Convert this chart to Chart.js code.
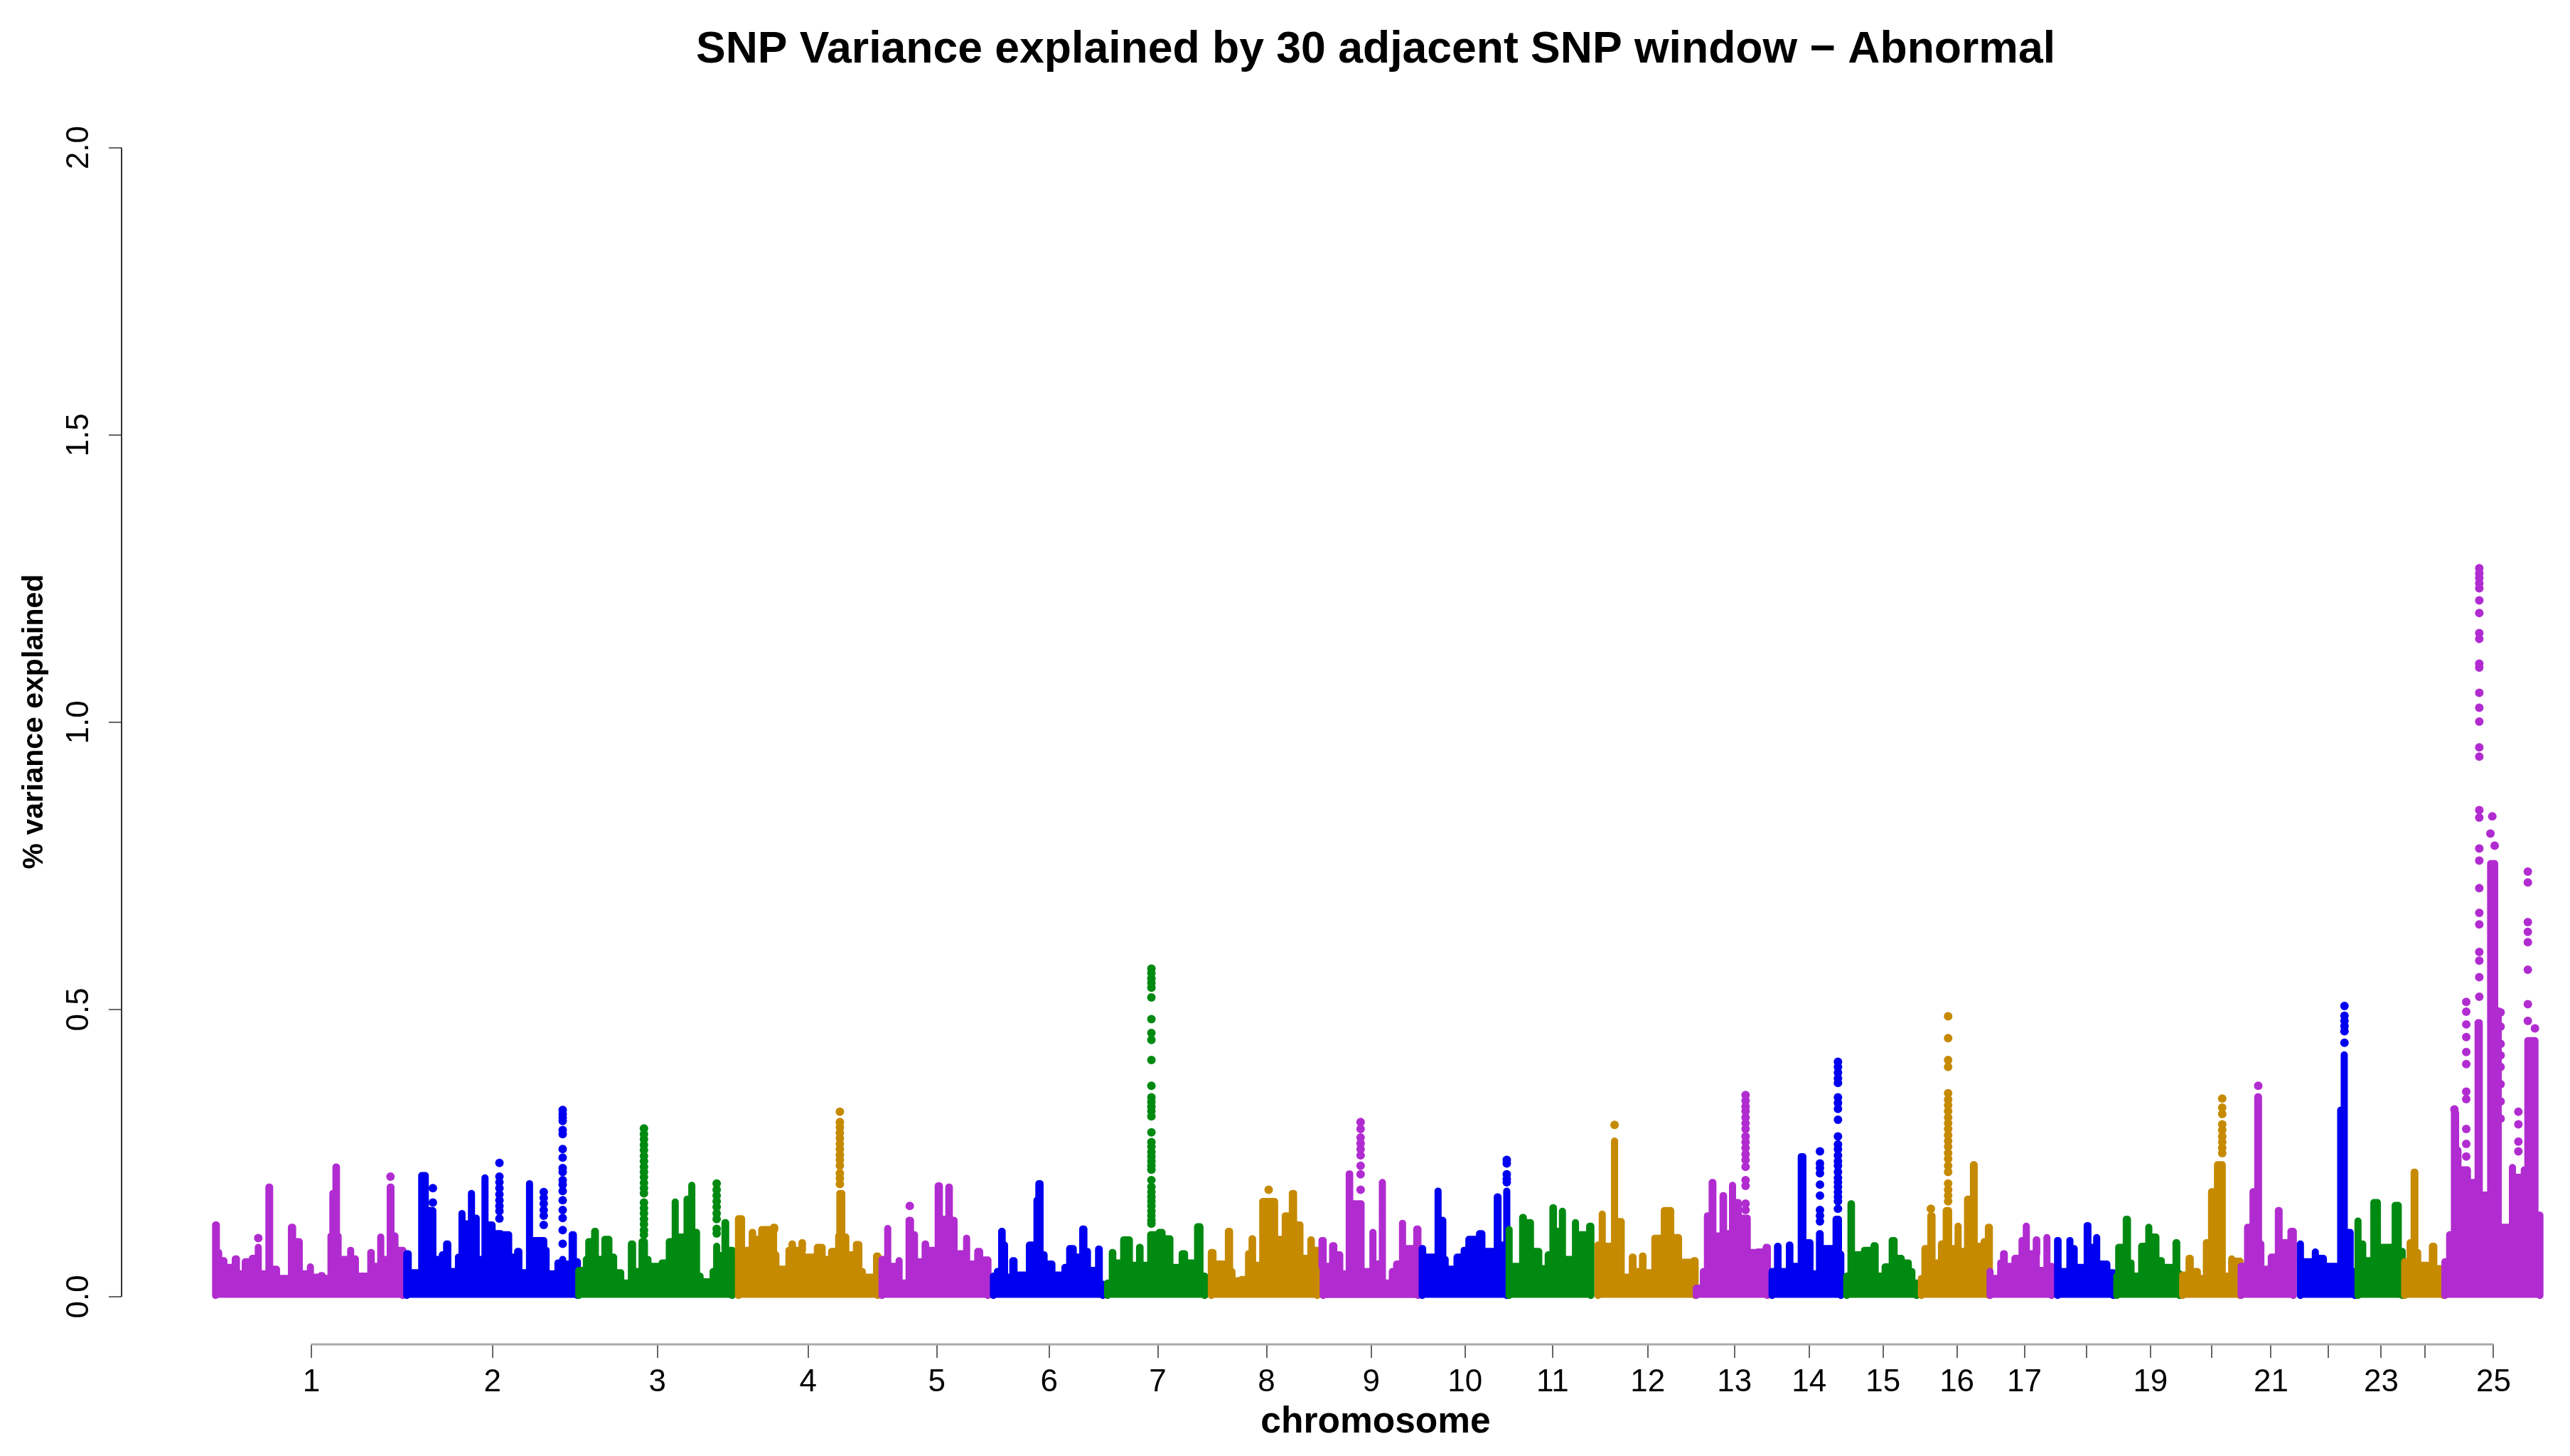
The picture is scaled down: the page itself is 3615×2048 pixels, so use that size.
<!DOCTYPE html>
<html>
<head>
<meta charset="utf-8">
<title>SNP variance</title>
<script src="https://cdn.jsdelivr.net/npm/chart.js@4"></script>
<style>
  html, body { margin: 0; padding: 0; background: #fff; overflow: hidden; }
  canvas { display: block; }
</style>
</head>
<body>
<canvas id="myChart" width="3705" height="2048"></canvas>
<script>
// genome position (arbitrary SNP index units), top edge of the point cloud
const chr1 = [[25,.131],[58,.083],[68,.069],[90,.057],[108,.072],[143,.046],[150,.067],[180,.073],[205,.092],[235,.046],[250,.197],[283,.054],[312,.038],[345,.127],[380,.102],[408,.046],[425,.058],[455,.040],[470,.043],[505,.038],[512,.112],[520,.186],[533,.232],[565,.112],[572,.071],[595,.087],[625,.072],[645,.042],[680,.083],[712,.059],[722,.110],[752,.071],[762,.197],[795,.112],[812,.087],[845,.004]];
const chr2 = [[832,.081],[868,.048],[895,.217],[940,.156],[972,.071],[982,.079],[1000,.098],[1035,.050],[1050,.075],[1065,.151],[1095,.133],[1105,.186],[1135,.143],[1155,.071],[1162,.213],[1192,.131],[1222,.116],[1258,.114],[1292,.075],[1300,.085],[1335,.048],[1350,.203],[1380,.104],[1440,.087],[1450,.046],[1470,.065],[1490,.071],[1520,.063],[1530,.114],[1565,.067],[1582,.004]];
const chr3 = [[1558,.052],[1590,.071],[1600,.102],[1625,.120],[1658,.071],[1668,.106],[1715,.075],[1735,.048],[1765,.030],[1780,.098],[1815,.050],[1825,.102],[1865,.071],[1880,.059],[1910,.065],[1940,.102],[1965,.171],[1995,.110],[2015,.176],[2035,.200],[2065,.118],[2085,.042],[2100,.032],[2125,.050],[2140,.094],[2170,.078],[2178,.135],[2205,.087],[2235,.004]];
const chr4 = [[2232,.142],[2275,.087],[2290,.118],[2322,.106],[2330,.123],[2385,.127],[2410,.079],[2420,.054],[2445,.087],[2460,.098],[2488,.087],[2502,.100],[2530,.075],[2565,.092],[2615,.071],[2625,.085],[2655,.112],[2660,.186],[2698,.110],[2715,.079],[2730,.097],[2770,.050],[2785,.040],[2815,.077],[2850,.004]];
const chr5 = [[2838,.071],[2862,.125],[2892,.059],[2910,.069],[2940,.030],[2952,.139],[2988,.114],[3005,.067],[3020,.098],[3052,.087],[3075,.199],[3110,.141],[3120,.197],[3152,.139],[3172,.081],[3195,.108],[3225,.063],[3242,.085],[3280,.070],[3315,.004]];
const chr6 = [[3308,.042],[3325,.050],[3343,.120],[3375,.096],[3385,.040],[3390,.069],[3425,.044],[3460,.096],[3492,.174],[3500,.203],[3535,.079],[3552,.063],[3585,.044],[3610,.057],[3630,.090],[3675,.075],[3685,.124],[3720,.085],[3735,.052],[3752,.089],[3785,.028],[3800,.004]];
const chr7 = [[3790,.030],[3810,.083],[3842,.065],[3858,.105],[3912,.061],[3925,.092],[3957,.061],[3972,.114],[4008,.118],[4050,.107],[4083,.057],[4105,.081],[4145,.065],[4170,.128],[4210,.042],[4230,.004]];
const chr8 = [[4228,.083],[4265,.063],[4300,.120],[4335,.050],[4345,.034],[4355,.036],[4385,.081],[4400,.107],[4432,.061],[4445,.172],[4525,.106],[4540,.147],[4570,.186],[4605,.131],[4632,.073],[4648,.105],[4680,.087],[4705,.004]];
const chr9 = [[4700,.104],[4725,.059],[4740,.095],[4775,.079],[4800,.046],[4810,.220],[4842,.168],[4890,.050],[4910,.118],[4940,.063],[4950,.205],[4980,.030],[4992,.050],[5010,.063],[5035,.134],[5065,.090],[5095,.124],[5130,.004]];
const chr10 = [[5118,.090],[5150,.075],[5185,.190],[5215,.139],[5235,.071],[5245,.054],[5265,.075],[5295,.087],[5315,.106],[5360,.116],[5400,.085],[5435,.180],[5468,.096],[5475,.190],[5505,.004]];
const chr11 = [[5485,.123],[5515,.059],[5542,.144],[5575,.135],[5605,.085],[5640,.055],[5650,.079],[5670,.161],[5702,.120],[5710,.155],[5740,.071],[5765,.135],[5795,.114],[5825,.129],[5860,.004]];
const chr12 = [[5860,.096],[5878,.150],[5908,.094],[5930,.277],[5960,.137],[5988,.040],[6005,.075],[6038,.050],[6048,.077],[6080,.048],[6100,.108],[6140,.156],[6197,.109],[6230,.066],[6265,.069],[6300,.004]];
const chr13 = [[6275,.021],[6305,.050],[6322,.147],[6342,.205],[6375,.112],[6388,.182],[6420,.116],[6428,.200],[6458,.170],[6482,.143],[6520,.083],[6535,.084],[6570,.092],[6605,.004]];
const chr14 = [[6595,.050],[6618,.094],[6650,.050],[6668,.096],[6700,.059],[6718,.250],[6755,.100],[6785,.046],[6795,.116],[6828,.090],[6865,.141],[6905,.080],[6915,.004]];
const chr15 = [[6910,.042],[6928,.168],[6960,.079],[6985,.087],[7025,.095],[7060,.042],[7072,.058],[7102,.104],[7140,.073],[7170,.065],[7200,.050],[7215,.030],[7235,.004]];
const chr16 = [[7225,.038],[7240,.090],[7265,.147],[7300,.065],[7310,.098],[7330,.156],[7370,.090],[7380,.129],[7410,.085],[7420,.176],[7445,.236],[7478,.094],[7490,.102],[7508,.127],[7542,.004]];
const chr17 = [[7515,.050],[7545,.038],[7560,.065],[7572,.081],[7605,.059],[7620,.073],[7650,.104],[7668,.129],[7698,.081],[7712,.105],[7740,.052],[7755,.109],[7785,.059],[7805,.004]];
const chr18 = [[7800,.104],[7832,.050],[7852,.104],[7882,.090],[7900,.057],[7925,.130],[7958,.092],[7965,.109],[7995,.063],[8038,.048],[8065,.004]];
const chr19 = [[8050,.042],[8058,.092],[8090,.141],[8125,.065],[8140,.042],[8155,.094],[8185,.127],[8215,.110],[8245,.069],[8268,.057],[8300,.100],[8333,.046],[8345,.004]];
const chr20 = [[8328,.044],[8355,.073],[8390,.050],[8420,.038],[8428,.100],[8450,.189],[8475,.236],[8525,.042],[8535,.072],[8565,.068],[8600,.004]];
const chr21 = [[8575,.059],[8602,.127],[8625,.189],[8645,.354],[8678,.098],[8688,.054],[8702,.075],[8732,.156],[8765,.100],[8785,.120],[8825,.004]];
const chr22 = [[8825,.098],[8855,.067],[8888,.084],[8918,.073],[8952,.059],[8995,.331],[9010,.427],[9040,.118],[9065,.050],[9085,.004]];
const chr23 = [[9068,.138],[9098,.098],[9118,.069],[9135,.170],[9180,.092],[9225,.165],[9268,.085],[9285,.004]];
const chr24 = [[9265,.067],[9288,.100],[9305,.223],[9338,.083],[9350,.061],[9382,.094],[9418,.055],[9460,.004]];
const chr25 = [[9435,.067],[9455,.114],[9475,.326],[9510,.261],[9520,.227],[9560,.205],[9575,.483],[9610,.183],[9628,.760],[9675,.504],[9690,.127],[9720,.231],[9750,.214],[9770,.227],[9785,.452],[9845,.148],[9866,.004]];

// single SNPs standing clear above the cloud: [position, [values]]
const chr1Dots = [[220,[.102]],[778,[.209]]];
const chr2Dots = [[957,[.189,.164]],[1238,[.233,.209,.199,.189,.178,.168,.158,.149,.136]],[1425,[.182,.172,.162,.151,.141,.125]],[1505,[.325,.318,.312,.306,.290,.283,.257,.242,.224,.217,.203,.195,.184,.168,.151,.137,.116,.092]]];
const chr3Dots = [[1848,[.293,.283,.274,.264,.255,.245,.236,.226,.217,.208,.198,.189,.180,.164,.154,.145,.135,.126,.116,.108]],[2155,[.197,.186,.176,.166,.156,.145,.135,.118,.110]]];
const chr4Dots = [[2675,[.322,.304,.295,.285,.276,.266,.257,.247,.238,.228,.215,.206,.196]]];
const chr5Dots = [[2970,[.158]]];
const chr7Dots = [[3990,[.571,.563,.554,.546,.538,.521,.483,.459,.447,.412,.367,.347,.339,.331,.323,.314,.286,.269,.261,.252,.244,.236,.228,.221,.203,.191,.182,.174,.166,.158,.149,.141,.133,.127]]];
const chr8Dots = [[4485,[.186]]];
const chr9Dots = [[4873,[.304,.292,.277,.267,.257,.246,.228,.213,.186]]];
const chr10Dots = [[5490,[.238,.232,.213,.205,.199]]];
const chr12Dots = [[5945,[.299]]];
const chr13Dots = [[6498,[.351,.341,.331,.323,.312,.302,.292,.279,.269,.259,.248,.238,.226,.203,.193,.162,.151]]];
const chr14Dots = [[6812,[.253,.232,.224,.215,.195,.176,.151,.141,.131]],[6888,[.409,.400,.390,.380,.372,.347,.337,.327,.308,.279,.265,.257,.246,.236,.228,.217,.207,.199,.191,.182,.174,.166,.153]]];
const chr16Dots = [[7280,[.153]],[7353,[.488,.450,.412,.400,.354,.343,.333,.323,.312,.302,.292,.281,.271,.261,.250,.240,.228,.217,.197,.186,.176,.166]]];
const chr20Dots = [[8510,[.345,.329,.318,.300,.290,.279,.269,.259,.250]]];
const chr21Dots = [[8662,[.367]]];
const chr22Dots = [[9026,[.506,.489,.480,.471,.462,.442]]];
const chr25Dots = [[9490,[.326]],[9540,[.513,.496,.474,.452,.426,.405,.357,.344,.292,.266,.244]],[9595,[1.268,1.259,1.251,1.242,1.233,1.212,1.19,1.155,1.145,1.102,1.095,1.051,1.025,1.001,.956,.940,.847,.834,.780,.759,.711,.668,.648,.600,.585,.556,.522]],[9642,[.806]],[9650,[.836]],[9660,[.785]],[9685,[.495,.470,.440,.420,.400,.370,.340,.310]],[9760,[.322,.300,.270,.253]],[9800,[.740,.721,.652,.635,.617,.569,.509,.480]],[9830,[.467]]];

const chrCloud = [chr1,chr2,chr3,chr4,chr5,chr6,chr7,chr8,chr9,chr10,chr11,chr12,chr13,chr14,chr15,chr16,chr17,chr18,chr19,chr20,chr21,chr22,chr23,chr24,chr25];
const chrDots = [chr1Dots,chr2Dots,chr3Dots,chr4Dots,chr5Dots,[],chr7Dots,chr8Dots,chr9Dots,chr10Dots,[],chr12Dots,chr13Dots,chr14Dots,[],chr16Dots,[],[],[],chr20Dots,chr21Dots,chr22Dots,[],[],chr25Dots];

const tickPositions = [444,1209,1905,2541,3084,3558,4017,4476,4918,5314,5683,6085,6451,6766,7078,7390,7675,7936,8207,8467,8716,8959,9181,9367,9655];
const tickLabels = ["1","2","3","4","5","6","7","8","9","10","11","12","13","14","15","16","17","","19","","21","","23","","25"];
const yTicks = [0, 0.5, 1, 1.5, 2];
const chromColors = ["#B12CD0", "#0000F0", "#008A12", "#C68A00"];

// the point size, in axis units, so the stepped outline gets round shoulders like the dots
const dotPx = 5;
const peakDotPx = 6;
const insetX = 15;
const insetY = 0.0062;

function cloudOutline(cloud) {
  const pts = [];
  for (let i = 0; i < cloud.length; i++) {
    const rising = i === 0 || cloud[i][1] > cloud[i - 1][1];
    const x = cloud[i][0] + (rising ? insetX : -insetX);
    pts.push({ x: x, y: Math.max(cloud[i][1] - insetY, 0.002) });
  }
  pts.unshift({ x: pts[0].x, y: 0.002 });
  return pts;
}

function dotPoints(dots) {
  const pts = [];
  for (const [x, vals] of dots) {
    for (const v of vals) pts.push({ x: x, y: v });
  }
  return pts;
}

const datasets = [];
chrCloud.forEach((cloud, i) => {
  const color = chromColors[i % 4];
  datasets.push({
    label: "chr" + (i + 1),
    data: cloudOutline(cloud),
    showLine: true,
    stepped: true,
    fill: { value: -0.002 },
    backgroundColor: color,
    borderColor: color,
    borderWidth: dotPx * 2,
    borderJoinStyle: "round",
    borderCapStyle: "round",
    pointRadius: 0,
    order: -(i + 1)
  });
  if (chrDots[i].length) {
    datasets.push({
      label: "chr" + (i + 1) + " peak",
      data: dotPoints(chrDots[i]),
      showLine: false,
      backgroundColor: color,
      borderColor: color,
      borderWidth: 0,
      pointRadius: peakDotPx,
      order: -(i + 1)
    });
  }
});

// base R style axes: y line stops at 0 and 2, x line stops at the first and last tick
const axisLines = {
  id: "axisLines",
  beforeDatasetsDraw(chart) {
    const { ctx, scales, chartArea } = chart;
    ctx.save();
    ctx.strokeStyle = "#333";
    ctx.lineWidth = 2;
    ctx.beginPath();
    ctx.moveTo(chartArea.left, scales.y.getPixelForValue(2));
    ctx.lineTo(chartArea.left, scales.y.getPixelForValue(0));
    ctx.stroke();
    ctx.strokeStyle = "#aaa";
    ctx.lineWidth = 3;
    ctx.beginPath();
    ctx.moveTo(scales.x.getPixelForValue(tickPositions[0]), chartArea.bottom);
    ctx.lineTo(scales.x.getPixelForValue(tickPositions[tickPositions.length - 1]), chartArea.bottom);
    ctx.stroke();
    ctx.restore();
  }
};

const fontFamily = "'Liberation Sans', Arial, sans-serif";

new Chart(document.getElementById("myChart"), {
  type: "scatter",
  data: { datasets },
  plugins: [axisLines],
  options: {
    responsive: false,
    devicePixelRatio: 1,
    animation: false,
    layout: { padding: 0 },
    plugins: {
      legend: { display: false },
      tooltip: { enabled: false },
      title: {
        display: true,
        fullSize: false,
        text: "SNP Variance explained by 30 adjacent SNP window \u2212 Abnormal",
        color: "#000",
        font: { family: fontFamily, size: 62.5, weight: "bold", lineHeight: 1.2 },
        padding: { top: 33.6, bottom: 30.4 }
      }
    },
    scales: {
      x: {
        type: "linear",
        min: -357,
        max: 10230,
        afterBuildTicks: axis => { axis.ticks = tickPositions.map(v => ({ value: v })); },
        afterFit: axis => { axis.height = 157; },
        grid: { drawOnChartArea: false, drawTicks: true, tickLength: 19, color: "#666", lineWidth: 2 },
        border: { display: false },
        ticks: {
          autoSkip: false,
          maxRotation: 0,
          minRotation: 0,
          padding: 8,
          color: "#000",
          font: { family: fontFamily, size: 44 },
          callback: (v, i) => tickLabels[i]
        },
        title: {
          display: true,
          text: "chromosome",
          color: "#000",
          font: { family: fontFamily, size: 51.5, weight: "bold", lineHeight: 1.2 },
          padding: { top: 0, bottom: 16 }
        }
      },
      y: {
        type: "linear",
        min: -0.083,
        max: 2.085,
        afterBuildTicks: axis => { axis.ticks = yTicks.map(v => ({ value: v })); },
        afterFit: axis => { axis.width = 171; },
        grid: { drawOnChartArea: false, drawTicks: true, tickLength: 18, color: "#666", lineWidth: 2 },
        border: { display: false },
        ticks: {
          minRotation: 90,
          maxRotation: 90,
          crossAlign: "center",
          padding: 11,
          color: "#000",
          font: { family: fontFamily, size: 44 },
          callback: v => v.toFixed(1)
        },
        title: {
          display: true,
          text: "% variance explained",
          color: "#000",
          font: { family: fontFamily, size: 41, weight: "bold", lineHeight: 1.2 },
          padding: { top: 24, bottom: 0 }
        }
      }
    }
  }
});
</script>
</body>
</html>
